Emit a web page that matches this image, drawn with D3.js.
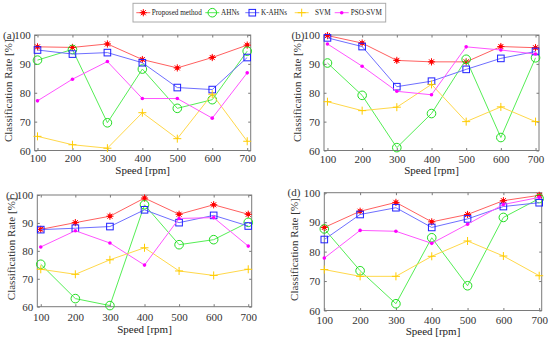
<!DOCTYPE html>
<html><head><meta charset="utf-8">
<script src="https://cdn.jsdelivr.net/npm/d3@7/dist/d3.min.js"></script>
<style>body{margin:0;background:#fff}svg{display:block}</style>
</head><body>
<script>
const speeds = [100, 200, 300, 400, 500, 600, 700];
const yTicks = [60, 70, 80, 90, 100];
const seriesNames = ["Proposed method", "AHNs", "K-AHNs", "SVM", "PSO-SVM"];
const panelLabels = ["(a)", "(b)", "(c)", "(d)"];

// values per panel
const proposedA = [95.9, 95.7, 96.9, 91.5, 88.6, 92.2, 96.5];
const ahnsA     = [91.3, 95.0, 69.6, 88.2, 74.6, 77.6, 94.4];
const kahnsA    = [94.8, 93.4, 93.9, 90.4, 81.8, 81.1, 92.2];
const svmA      = [64.9, 62.0, 60.8, 73.1, 64.1, 79.5, 63.2];
const psoA      = [77.2, 84.7, 90.8, 78.0, 78.0, 71.2, 86.9];

const proposedB = [99.8, 97.2, 91.2, 90.7, 90.7, 96.0, 95.6];
const ahnsB     = [90.3, 79.1, 61.0, 72.8, 91.6, 64.5, 92.1];
const kahnsB    = [99.0, 96.0, 82.1, 84.0, 88.1, 91.9, 94.3];
const svmB      = [76.9, 73.8, 75.0, 82.9, 70.0, 75.1, 70.0];
const psoB      = [96.9, 89.2, 80.5, 79.3, 95.9, 94.8, 93.4];

const proposedC = [87.7, 90.1, 92.4, 98.9, 93.1, 96.5, 93.1];
const ahnsC     = [75.2, 62.9, 60.4, 96.5, 82.2, 84.0, 90.2];
const kahnsC    = [87.6, 88.1, 88.7, 94.7, 90.1, 92.7, 88.9];
const svmC      = [73.4, 71.6, 76.8, 81.1, 72.8, 71.2, 73.4];
const psoC      = [81.4, 87.2, 82.8, 74.9, 91.6, 91.9, 81.7];

const proposedD = [88.2, 93.7, 96.7, 90.1, 92.6, 97.3, 99.1];
const ahnsD     = [87.7, 73.5, 62.3, 84.7, 68.4, 91.6, 98.0];
const kahnsD    = [84.1, 92.6, 94.9, 88.2, 91.1, 95.3, 96.6];
const svmD      = [73.9, 71.6, 71.6, 78.4, 83.6, 78.5, 71.8];
const psoD      = [77.8, 87.2, 86.9, 82.8, 89.3, 96.0, 98.4];

const panelData = [
  [proposedA, ahnsA, kahnsA, svmA, psoA],
  [proposedB, ahnsB, kahnsB, svmB, psoB],
  [proposedC, ahnsC, kahnsC, svmC, psoC],
  [proposedD, ahnsD, kahnsD, svmD, psoD]
];

const FONT = '"Liberation Serif", "Times New Roman", serif';

const styles = [
  {line: "#ff6060", mark: "#ff0000", type: "star"},
  {line: "#55ee55", mark: "#22dd22", type: "circle"},
  {line: "#6f6fff", mark: "#2020ff", type: "square"},
  {line: "#ffd84a", mark: "#ffcc00", type: "plus"},
  {line: "#ff55ff", mark: "#ff00ff", type: "dot"}
];

const geo = [
  {l: 34.7, r: 250.7, t: 35, b: 150.5, x0: 92, x1: 710, lab: 3, ylx: 12, xly: 174, pad: 4},
  {l: 324, r: 539, t: 35, b: 150.5, x0: 90, x1: 710, lab: 291.5, ylx: 301, xly: 174, pad: 5},
  {l: 37.3, r: 251.7, t: 195, b: 306.7, x0: 90, x1: 710, lab: 6, ylx: 15, xly: 333, pad: 6.5},
  {l: 324.3, r: 541.7, t: 192.7, b: 310.5, x0: 100, x1: 707, lab: 287.5, ylx: 298, xly: 335, pad: 6}
];

const svg = d3.select("body").append("svg").attr("width", 550).attr("height", 342)
  .style("font-family", FONT);

function drawMarker(g, type, color, x, y) {
  if (type === "star") {
    const r = 3.6;
    for (let k = 0; k < 4; k++) {
      const a = k * Math.PI / 4;
      g.append("line").attr("x1", x - r * Math.cos(a)).attr("y1", y - r * Math.sin(a))
        .attr("x2", x + r * Math.cos(a)).attr("y2", y + r * Math.sin(a))
        .attr("stroke", color).attr("stroke-width", 1);
    }
    g.append("circle").attr("cx", x).attr("cy", y).attr("r", 2).attr("fill", color);
  } else if (type === "circle") {
    g.append("circle").attr("cx", x).attr("cy", y).attr("r", 4.3).attr("fill", "none")
      .attr("stroke", color).attr("stroke-width", 1);
  } else if (type === "square") {
    g.append("rect").attr("x", x - 3.3).attr("y", y - 3.3).attr("width", 6.6).attr("height", 6.6)
      .attr("fill", "none").attr("stroke", color).attr("stroke-width", 1);
  } else if (type === "plus") {
    g.append("line").attr("x1", x - 4).attr("x2", x + 4).attr("y1", y).attr("y2", y).attr("stroke", color).attr("stroke-width", 1);
    g.append("line").attr("x1", x).attr("x2", x).attr("y1", y - 4).attr("y2", y + 4).attr("stroke", color).attr("stroke-width", 1);
  } else {
    g.append("circle").attr("cx", x).attr("cy", y).attr("r", 1.8).attr("fill", color);
  }
}

function txt(sel) {
  return sel.style("font-family", FONT).style("font-weight", "normal");
}

geo.forEach((p, i) => {
  const x = d3.scaleLinear().domain([p.x0, p.x1]).range([p.l, p.r]);
  const y = d3.scaleLinear().domain([60, 100]).range([p.b, p.t]);
  const g = svg.append("g");
  const axCol = "#7a7a7a";
  const tickLen = 2.5;

  const gb = g.append("g").attr("transform", `translate(0,${p.b})`)
    .call(d3.axisBottom(x).tickValues(speeds).tickSize(-tickLen).tickPadding(p.pad).tickFormat(d3.format("d")));
  const gt = g.append("g").attr("transform", `translate(0,${p.t})`)
    .call(d3.axisTop(x).tickValues(speeds).tickSize(-tickLen).tickFormat(""));
  const gl = g.append("g").attr("transform", `translate(${p.l},0)`)
    .call(d3.axisLeft(y).tickValues(yTicks).tickSize(-tickLen).tickPadding(4));
  const gr = g.append("g").attr("transform", `translate(${p.r},0)`)
    .call(d3.axisRight(y).tickValues(yTicks).tickSize(-tickLen).tickFormat(""));
  [gb, gt, gl, gr].forEach(a => {
    a.attr("font-family", null);
    a.select(".domain").remove();
    a.selectAll(".tick line").attr("stroke", axCol);
    txt(a.selectAll(".tick text").attr("fill", "#333").style("font-size", "11px"));
  });
  g.append("rect").attr("x", p.l).attr("y", p.t).attr("width", p.r - p.l).attr("height", p.b - p.t)
    .attr("fill", "none").attr("stroke", axCol).attr("stroke-width", 1);

  const line = d3.line().x((d, j) => x(speeds[j])).y(d => y(d));
  panelData[i].forEach((vals, s) => {
    const st = styles[s];
    g.append("path").attr("d", line(vals)).attr("fill", "none").attr("stroke", st.line).attr("stroke-width", 1);
    vals.forEach((v, j) => drawMarker(g, st.type, st.mark, x(speeds[j]), y(v)));
  });

  txt(g.append("text").attr("x", p.lab).attr("y", y(100)).attr("dy", "0.32em")
    .style("font-size", "11px").attr("fill", "#333").text(panelLabels[i]));
  txt(g.append("text").attr("transform", `translate(${p.ylx},${(p.t + p.b) / 2 - 2}) rotate(-90)`)
    .attr("text-anchor", "middle").style("font-size", "11px").attr("fill", "#333")
    .text("Classification Rate [%]"));
  txt(g.append("text").attr("x", (p.l + p.r) / 2).attr("y", p.xly).attr("text-anchor", "middle")
    .style("font-size", "11px").attr("fill", "#222").text("Speed [rpm]"));
});

// legend
const lg = svg.append("g");
lg.append("rect").attr("x", 133).attr("y", 3.3).attr("width", 252.7).attr("height", 18.7)
  .attr("fill", "#fff").attr("stroke", "#aaa").attr("stroke-width", 1);
const legMarkX = [143.3, 212.3, 252.3, 301.7, 341.7];
const legTextX = [151.7, 221, 261, 315, 350.7];
const ly = 12.7;
seriesNames.forEach((name, s) => {
  const st = styles[s];
  lg.append("line").attr("x1", legMarkX[s] - 7).attr("x2", legMarkX[s] + 7).attr("y1", ly).attr("y2", ly)
    .attr("stroke", st.line).attr("stroke-width", 1);
  drawMarker(lg, st.type, st.mark, legMarkX[s], ly);
  txt(lg.append("text").attr("x", legTextX[s]).attr("y", ly).attr("dy", "0.35em")
    .style("font-size", "7.2px").attr("fill", "#222").text(name));
});
</script>
</body></html>
